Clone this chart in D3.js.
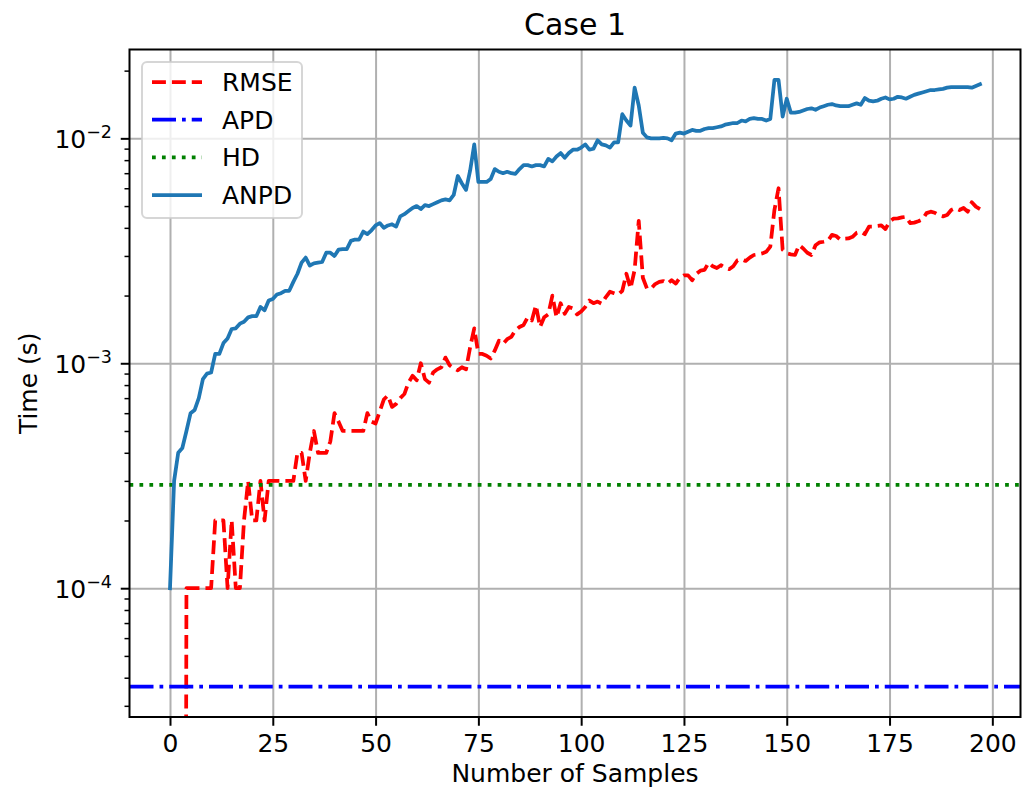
<!DOCTYPE html>
<html lang="en">
<head>
<meta charset="utf-8">
<title>Case 1</title>
<script src="https://d3js.org/d3.v7.min.js"></script>
<style>
  body { margin: 0; background: #fff; }
  svg { display: block; font-family: "DejaVu Sans", sans-serif; }
</style>
</head>
<body>
<script>
// timings per number of samples (index = number of samples)
var rmse = [
  0, 0, 0, 0, 1e-4, 1e-4, 1e-4, 1e-4, 1e-4, 1e-4,
  1e-4, 2e-4, 2e-4, 2e-4, 1e-4, 2e-4, 1e-4, 1e-4, 2e-4, 3e-4,
  2e-4, 2e-4, 3e-4, 2e-4, 3e-4, 3e-4, 3e-4, 3e-4, 3e-4, 3e-4,
  3e-4, 4e-4, 4e-4, 3e-4, 4e-4, 5e-4, 4e-4, 4e-4, 4e-4, 4.5e-4,
  6e-4, 5.5e-4, 5e-4, 5e-4, 5e-4, 5e-4, 5e-4, 5e-4, 6e-4, 5.5e-4,
  5.4e-4, 6.1e-4, 6.9e-4, 7.2e-4, 6.4e-4, 6.6e-4, 7.0e-4, 7.3e-4, 8.2e-4, 8.8e-4,
  8.4e-4, 1.0e-3, 8.5e-4, 8.2e-4, 9.1e-4, 9.4e-4, 9.6e-4, 1.06e-3, 9.8e-4, 9.5e-4,
  9.3e-4, 9.6e-4, 9.4e-4, 1.18e-3, 1.43e-3, 1.1e-3, 1.1e-3, 1.08e-3, 1.05e-3, 1.14e-3,
  1.26e-3, 1.22e-3, 1.28e-3, 1.31e-3, 1.4e-3, 1.45e-3, 1.48e-3, 1.6e-3, 1.55e-3, 1.81e-3,
  1.45e-3, 1.6e-3, 1.65e-3, 2.0e-3, 1.6e-3, 1.85e-3, 1.66e-3, 1.78e-3, 1.75e-3, 1.65e-3,
  1.7e-3, 1.78e-3, 1.9e-3, 1.85e-3, 1.88e-3, 1.84e-3, 1.97e-3, 2.08e-3, 2.05e-3, 2.02e-3,
  2.1e-3, 2.5e-3, 2.15e-3, 2.6e-3, 4.3e-3, 2.4e-3, 2.15e-3, 2.15e-3, 2.25e-3, 2.3e-3,
  2.32e-3, 2.26e-3, 2.34e-3, 2.26e-3, 2.4e-3, 2.46e-3, 2.46e-3, 2.34e-3, 2.5e-3, 2.58e-3,
  2.6e-3, 2.8e-3, 2.7e-3, 2.65e-3, 2.73e-3, 2.66e-3, 2.62e-3, 2.7e-3, 2.87e-3, 2.9e-3,
  2.85e-3, 2.95e-3, 3.03e-3, 3.05e-3, 3.08e-3, 3.13e-3, 3.3e-3, 4.8e-3, 6.0e-3, 3.2e-3,
  3.08e-3, 3.05e-3, 3.03e-3, 3.35e-3, 3.24e-3, 3.1e-3, 3.03e-3, 3.35e-3, 3.45e-3, 3.47e-3,
  3.5e-3, 3.72e-3, 3.68e-3, 3.55e-3, 3.58e-3, 3.59e-3, 3.65e-3, 3.8e-3, 3.85e-3, 3.75e-3,
  4.05e-3, 4.05e-3, 4.08e-3, 4.1e-3, 3.95e-3, 4.26e-3, 4.4e-3, 4.41e-3, 4.45e-3, 4.48e-3,
  4.2e-3, 4.22e-3, 4.28e-3, 4.36e-3, 4.65e-3, 4.72e-3, 4.67e-3, 4.55e-3, 4.5e-3, 4.56e-3,
  4.8e-3, 4.89e-3, 4.8e-3, 4.9e-3, 4.72e-3, 5.2e-3, 4.97e-3, 4.85e-3
];
var anpd = [
  1.0e-4, 3.0e-4, 4.0e-4, 4.2e-4, 5.0e-4, 6.0e-4, 6.2e-4, 7.0e-4, 8.5e-4, 9.0e-4,
  9.1e-4, 1.1e-3, 1.1e-3, 1.23e-3, 1.29e-3, 1.42e-3, 1.43e-3, 1.5e-3, 1.53e-3, 1.6e-3,
  1.62e-3, 1.62e-3, 1.78e-3, 1.72e-3, 1.9e-3, 1.93e-3, 2.02e-3, 2.05e-3, 2.1e-3, 2.1e-3,
  2.3e-3, 2.5e-3, 2.8e-3, 2.95e-3, 2.72e-3, 2.78e-3, 2.8e-3, 2.82e-3, 3.1e-3, 3.1e-3,
  3.0e-3, 3.2e-3, 3.22e-3, 3.22e-3, 3.5e-3, 3.55e-3, 3.55e-3, 3.85e-3, 3.75e-3, 3.9e-3,
  4.1e-3, 4.2e-3, 4.0e-3, 4.1e-3, 4.15e-3, 4.05e-3, 4.5e-3, 4.6e-3, 4.75e-3, 4.9e-3,
  5.0e-3, 4.85e-3, 5.05e-3, 5.0e-3, 5.1e-3, 5.2e-3, 5.3e-3, 5.35e-3, 5.3e-3, 5.6e-3,
  6.8e-3, 6.3e-3, 5.9e-3, 7.2e-3, 9.4e-3, 6.4e-3, 6.4e-3, 6.4e-3, 6.6e-3, 7.3e-3,
  7.1e-3, 7.0e-3, 7.1e-3, 7.0e-3, 6.95e-3, 7.3e-3, 7.6e-3, 7.6e-3, 7.5e-3, 7.6e-3,
  7.6e-3, 7.5e-3, 8.1e-3, 7.9e-3, 8.3e-3, 8.6e-3, 8.2e-3, 8.6e-3, 8.9e-3, 8.9e-3,
  9.1e-3, 9.4e-3, 8.9e-3, 9.0e-3, 9.8e-3, 9.4e-3, 9.3e-3, 9.1e-3, 9.6e-3, 9.6e-3,
  1.28e-2, 1.2e-2, 1.14e-2, 1.68e-2, 1.4e-2, 1.06e-2, 1.01e-2, 1.0e-2, 1.0e-2, 1.0e-2,
  1.005e-2, 1.0e-2, 9.8e-3, 1.05e-2, 1.06e-2, 1.05e-2, 1.07e-2, 1.09e-2, 1.08e-2, 1.08e-2,
  1.1e-2, 1.11e-2, 1.11e-2, 1.12e-2, 1.13e-2, 1.15e-2, 1.16e-2, 1.17e-2, 1.17e-2, 1.2e-2,
  1.19e-2, 1.22e-2, 1.23e-2, 1.22e-2, 1.22e-2, 1.2e-2, 1.22e-2, 1.82e-2, 1.82e-2, 1.25e-2,
  1.5e-2, 1.3e-2, 1.3e-2, 1.31e-2, 1.33e-2, 1.35e-2, 1.36e-2, 1.34e-2, 1.37e-2, 1.39e-2,
  1.41e-2, 1.42e-2, 1.4e-2, 1.39e-2, 1.39e-2, 1.39e-2, 1.41e-2, 1.43e-2, 1.41e-2, 1.51e-2,
  1.47e-2, 1.46e-2, 1.47e-2, 1.5e-2, 1.52e-2, 1.49e-2, 1.5e-2, 1.53e-2, 1.52e-2, 1.5e-2,
  1.53e-2, 1.56e-2, 1.58e-2, 1.6e-2, 1.62e-2, 1.64e-2, 1.64e-2, 1.65e-2, 1.66e-2, 1.68e-2,
  1.69e-2, 1.69e-2, 1.69e-2, 1.69e-2, 1.69e-2, 1.68e-2, 1.71e-2, 1.74e-2
];
// constant timings (drawn as horizontal lines)
var apd = 3.65e-5;
var hd = 2.88e-4;

var xTicks = [0, 25, 50, 75, 100, 125, 150, 175, 200];
var yTicks = [1e-4, 1e-3, 1e-2];
var yTickExp = ["\u22124", "\u22123", "\u22122"];
var seriesNames = ["RMSE", "APD", "HD", "ANPD"];
var seriesColors = ["#ff0000", "#0000ff", "#008000", "#1f77b4"];
var seriesDash = ["13.9,6", "24,6,3.75,6", "3.75,6.2", null];

var w = 1029, h = 798;
var pLeft = 129.5, pRight = 1020.5, pTop = 49.5, pBottom = 717;

// x limits like matplotlib: 5% margin around data
var n = anpd.length - 1;
var x = d3.scaleLinear().domain([-0.05 * n, n * 1.05]).range([pLeft, pRight]);

// log y limits: 5% margin in log space around the positive data
var allPos = rmse.concat(anpd, [apd, hd]).filter(function (v) { return v > 0; });
var lmin = Math.log10(d3.min(allPos)), lmax = Math.log10(d3.max(allPos));
var pad = 0.05 * (lmax - lmin);
var y = d3.scaleLog().domain([Math.pow(10, lmin - pad), Math.pow(10, lmax + pad)]).range([pBottom, pTop]);

var svg = d3.select("body").append("svg").attr("width", w).attr("height", h);

svg.append("defs").append("clipPath").attr("id", "plot")
  .append("rect").attr("x", pLeft).attr("y", pTop)
  .attr("width", pRight - pLeft).attr("height", pBottom - pTop);

// grid
var gx = svg.append("g").attr("transform", "translate(0," + pBottom + ")")
  .call(d3.axisBottom(x).tickValues(xTicks).tickSize(-(pBottom - pTop)).tickFormat(""));
var gy = svg.append("g").attr("transform", "translate(" + pLeft + ",0)")
  .call(d3.axisLeft(y).tickValues(yTicks).tickSize(-(pRight - pLeft)).tickFormat(""));
[gx, gy].forEach(function (g) {
  g.select(".domain").remove();
  g.selectAll("line").attr("stroke", "#b0b0b0").attr("stroke-width", 2);
});

// lines
var line = d3.line()
  .x(function (d, i) { return x(i); })
  .y(function (d) { return y(d > 0 ? d : 1e-12); });

var plot = svg.append("g").attr("clip-path", "url(#plot)");
var seriesData = [rmse, [apd, apd], [hd, hd], anpd];

seriesData.forEach(function (data, k) {
  var p = plot.append("path")
    .attr("fill", "none")
    .attr("stroke", seriesColors[k])
    .attr("stroke-width", 3.75)
    .attr("stroke-linejoin", "round");
  if (data.length === 2) {
    p.attr("d", "M" + x.range()[0] + "," + y(data[0]) + "H" + x.range()[1]);
  } else {
    p.attr("d", line(data));
  }
  if (seriesDash[k]) p.attr("stroke-dasharray", seriesDash[k]).attr("stroke-linecap", "butt");
  else p.attr("stroke-linecap", "square");
});

// spines
svg.append("rect").attr("x", pLeft).attr("y", pTop)
  .attr("width", pRight - pLeft).attr("height", pBottom - pTop)
  .attr("fill", "none").attr("stroke", "#000").attr("stroke-width", 2);

// x axis ticks
var ax = svg.append("g").attr("transform", "translate(0," + pBottom + ")")
  .call(d3.axisBottom(x).tickValues(xTicks).tickSize(8.75).tickPadding(8.75).tickFormat(d3.format("d")));
ax.select(".domain").remove();
ax.selectAll("line").attr("stroke", "#000").attr("stroke-width", 2);
ax.selectAll("text").attr("fill", "#000").style("font-size", "25px").style("font-family", "DejaVu Sans");

// y axis major ticks
var ay = svg.append("g").attr("transform", "translate(" + pLeft + ",0)")
  .call(d3.axisLeft(y).tickValues(yTicks).tickSize(8.75).tickPadding(8.75).tickFormat(function () { return ""; }));
ay.select(".domain").remove();
ay.selectAll("line").attr("stroke", "#000").attr("stroke-width", 2);
ay.selectAll(".tick text").each(function (d, i) {
  var t = d3.select(this).attr("fill", "#000").attr("dy", null).attr("y", 9)
    .style("font-size", "25px").style("font-family", "DejaVu Sans");
  t.append("tspan").text("10");
  t.append("tspan").attr("dy", -10).style("font-size", "17.5px").text(yTickExp[i]);
});

// y axis minor ticks
var minor = [];
for (var e = -6; e <= 0; e++) {
  for (var m = 2; m <= 9; m++) {
    var v = m * Math.pow(10, e);
    if (v >= y.domain()[0] && v <= y.domain()[1]) minor.push(v);
  }
}
var am = svg.append("g").attr("transform", "translate(" + pLeft + ",0)")
  .call(d3.axisLeft(y).tickValues(minor).tickSize(5).tickFormat(""));
am.select(".domain").remove();
am.selectAll("line").attr("stroke", "#000").attr("stroke-width", 1.5);

// labels
svg.append("text").attr("x", (pLeft + pRight) / 2).attr("y", 34.5)
  .attr("text-anchor", "middle").style("font-size", "30px").text("Case 1");
svg.append("text").attr("x", (pLeft + pRight) / 2).attr("y", 782)
  .attr("text-anchor", "middle").style("font-size", "25px").text("Number of Samples");
svg.append("text").attr("transform", "translate(37," + (pTop + pBottom) / 2 + ") rotate(-90)")
  .attr("text-anchor", "middle").style("font-size", "25px").text("Time (s)");

// legend
var lg = svg.append("g");
lg.append("rect").attr("x", 142).attr("y", 62).attr("width", 160).attr("height", 156)
  .attr("rx", 5).attr("fill", "#fff").attr("fill-opacity", 0.8)
  .attr("stroke", "#cccccc").attr("stroke-opacity", 0.8).attr("stroke-width", 2);
seriesNames.forEach(function (name, k) {
  var yy = 82 + 37.7 * k;
  var l = lg.append("line").attr("x1", 152).attr("x2", 202).attr("y1", yy).attr("y2", yy)
    .attr("stroke", seriesColors[k]).attr("stroke-width", 3.75);
  if (seriesDash[k]) l.attr("stroke-dasharray", seriesDash[k]);
  lg.append("text").attr("x", 222).attr("y", yy + 9).style("font-size", "25px").text(name);
});
</script>
</body>
</html>
